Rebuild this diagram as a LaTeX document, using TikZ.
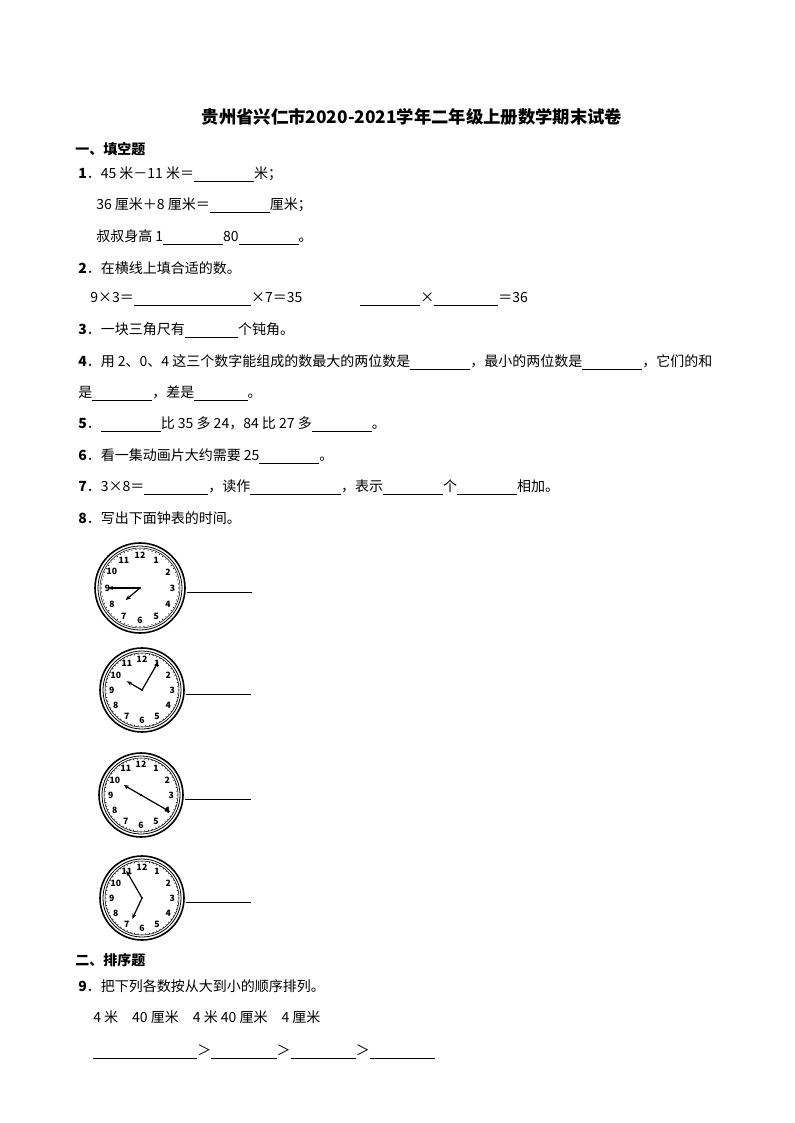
\documentclass[tikz,border=0pt]{standalone}
\usepackage{fontspec}
\setmainfont{Noto Sans CJK SC}
\usetikzlibrary{arrows.meta}
\newcommand\bl[1]{\rule[-2.5pt]{#1pt}{0.5pt}}
\newcommand\myclock[8]{%
 \begin{scope}[shift={(#1,#2)}]
  \draw[line width=1.2pt] (0,0) circle (#3);
  \draw[line width=0.6pt] (0,0) circle (#3-3);
  \draw[line width=0.4pt] (0,0) circle (#3-5);
  \foreach \i in {0,...,59}{\fill ({#3*0.86*cos(\i*6)},{#3*0.86*sin(\i*6)}) circle (0.6);}
  \foreach \h in {1,...,12}{\node[font=\fontsize{6.5}{6.5}\selectfont\bfseries,inner sep=0] at ({#3*0.72*cos(90-30*\h)},{-#3*0.72*sin(90-30*\h)}) {\h};}
  \draw[-{Stealth[length=4pt]},line width=0.9pt] (0,0) -- ({#3*#5*cos(#4)},{-#3*#5*sin(#4)});
  \draw[-{Stealth[length=4pt]},line width=0.9pt] (0,0) -- ({#3*#7*cos(#6)},{-#3*#7*sin(#6)});
  \fill (0,0) circle (1.2);
 \end{scope}
 \draw[line width=0.5pt] (#1+#3+2,#2+4) -- +(#8,0);}
\begin{document}
\begin{tikzpicture}[x=0.75pt,y=-0.75pt,txt/.style={anchor=west,inner sep=0,font=\fontsize{10.5}{12}\selectfont}]
\useasboundingbox (0,0) rectangle (794,1123);
\node[inner sep=0,font=\fontsize{13}{15}\selectfont\bfseries] (title) at (412,117) {贵州省兴仁市2020-2021学年二年级上册数学期末试卷};
\node[txt,font=\fontsize{10.5}{12}\selectfont\bfseries] (s1) at (75,149) {一、填空题};
\node[txt] (q1) at (78,174) {\textbf{1}．45 米－11 米＝\bl{45}米；};
\node[txt] (q1b) at (96,205) {36 厘米＋8 厘米＝\bl{45}厘米；};
\node[txt] (q1c) at (96,237) {叔叔身高 1\bl{45}80\bl{45}。};
\node[txt] (q2) at (78,268) {\textbf{2}．在横线上填合适的数。};
\node[txt] (q2a) at (90,299) {9×3＝\bl{88}×7＝35};
\node[txt] (q2b) at (360,299) {\bl{45}×\bl{48}＝36};
\node[txt] (q3) at (78,330) {\textbf{3}．一块三角尺有\bl{40}个钝角。};
\node[txt] (q4) at (78,362) {\textbf{4}．用 2、0、4 这三个数字能组成的数最大的两位数是\bl{45}，最小的两位数是\bl{45}，它们的和};
\node[txt] (q4b) at (78,393) {是\bl{45}，差是\bl{40}。};
\node[txt] (q5) at (78,424) {\textbf{5}．\bl{45}比 35 多 24，84 比 27 多\bl{45}。};
\node[txt] (q6) at (78,456) {\textbf{6}．看一集动画片大约需要 25\bl{45}。};
\node[txt] (q7) at (78,487) {\textbf{7}．3×8＝\bl{48}，读作\bl{68}，表示\bl{45}个\bl{45}相加。};
\node[txt] (q8) at (78,518) {\textbf{8}．写出下面钟表的时间。};
\myclock{140}{588}{45}{180}{0.72}{-140}{0.42}{65}
\myclock{142}{690}{42}{60}{0.78}{150}{0.42}{65}
\myclock{141}{795}{42}{-30}{0.8}{150}{0.48}{66}
\myclock{142}{898}{42}{120}{0.75}{-115}{0.55}{65}
\node[txt,font=\fontsize{10.5}{12}\selectfont\bfseries] (s2) at (75,960) {二、排序题};
\node[txt] (q9) at (78,986) {\textbf{9}．把下列各数按从大到小的顺序排列。};
\node[txt] (q9a) at (93,1017) {4 米\quad 40 厘米\quad 4 米 40 厘米\quad 4 厘米};
\node[txt] (q9b) at (93,1052) {\bl{78}＞\bl{49}＞\bl{49}＞\bl{49}};
\end{tikzpicture}
\end{document}
